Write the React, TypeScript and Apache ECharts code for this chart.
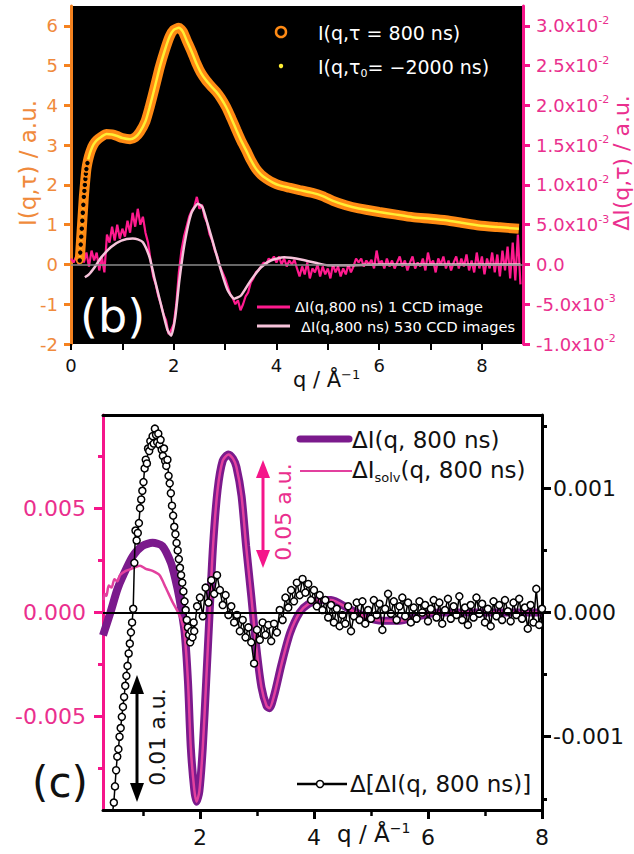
import React, { useEffect, useRef } from "react";
import * as echarts from "echarts";

const FONT = "DejaVu Sans";
const ORANGE_AX = "#f5821f";
const ORANGE_TXT = "#f08a3c";
const ORANGE_LINE = "#ff8a14";
const YELLOW = "#ffee33";
const PINK_AX = "#f5168a";
const PINK_TXT = "#ea2f8e";
const PINK_LINE = "#ff1a8e";
const LIGHT_PINK = "#f6c3da";
const PURPLE = "#7b1a8c";
const SOLV_PINK = "#e2409e";

// ---------- Panel (b) ----------
// I(q, tau = 800 ns), left axis (a.u.)
const qI = [0.17, 0.18, 0.19, 0.2, 0.21, 0.22, 0.23, 0.24, 0.25, 0.26, 0.27, 0.28, 0.29, 0.3, 0.32, 0.35, 0.39, 0.44, 0.5, 0.6, 0.69, 0.8, 0.9, 1.0, 1.15, 1.25, 1.34, 1.45, 1.53, 1.63, 1.73, 1.83, 1.92, 2.0, 2.1, 2.18, 2.25, 2.35, 2.44, 2.53, 2.63, 2.73, 2.83, 2.92, 3.02, 3.12, 3.22, 3.31, 3.41, 3.5, 3.6, 3.7, 3.8, 3.93, 4.06, 4.25, 4.45, 4.7, 4.9, 5.1, 5.35, 5.6, 6.0, 6.3, 6.65, 7.0, 7.3, 7.6, 7.94, 8.3, 8.72];
const I800 = [0.1, 0.3, 0.5, 0.7, 0.9, 1.1, 1.3, 1.5, 1.7, 1.85, 2.0, 2.15, 2.28, 2.4, 2.55, 2.72, 2.88, 3.02, 3.12, 3.22, 3.28, 3.27, 3.23, 3.18, 3.15, 3.2, 3.33, 3.6, 3.95, 4.45, 4.97, 5.4, 5.73, 5.9, 5.95, 5.85, 5.64, 5.35, 5.06, 4.82, 4.63, 4.48, 4.34, 4.18, 3.96, 3.68, 3.38, 3.12, 2.87, 2.63, 2.41, 2.26, 2.16, 2.06, 1.99, 1.93, 1.87, 1.8, 1.72, 1.6, 1.49, 1.41, 1.32, 1.26, 1.19, 1.15, 1.11, 1.05, 0.98, 0.94, 0.9];
// I(q, tau0 = -2000 ns): indistinguishable from I800 at this scale
const Itau0 = [0.1, 0.3, 0.5, 0.7, 0.9, 1.1, 1.3, 1.5, 1.7, 1.85, 2.0, 2.15, 2.28, 2.4, 2.55, 2.72, 2.88, 3.02, 3.12, 3.22, 3.28, 3.27, 3.23, 3.18, 3.15, 3.2, 3.33, 3.6, 3.95, 4.45, 4.97, 5.4, 5.73, 5.9, 5.95, 5.85, 5.64, 5.35, 5.06, 4.82, 4.63, 4.48, 4.34, 4.18, 3.96, 3.68, 3.38, 3.12, 2.87, 2.63, 2.41, 2.26, 2.16, 2.06, 1.99, 1.93, 1.87, 1.8, 1.72, 1.6, 1.49, 1.41, 1.32, 1.26, 1.19, 1.15, 1.11, 1.05, 0.98, 0.94, 0.9];

// ΔI(q,800 ns), 1 CCD image, sampled every 0.05 from q = 0, in units of 1e-3 (right axis)
const CCD1_Q0 = 0;
const CCD1_DQ = 0.05;
const dI1ccd = [
  0.75, 0.25, 1.0, 0.0, 1.25, 0.25, 1.5, -0.25, 1.75, 0.5, 1.5, -0.75, 1.0, -1.0, 3.75, 2.75, 4.75, 3.0, 5.0, 3.25,
  4.5, 3.5, 5.5, 4.0, 6.5, 4.75, 7.0, 5.0, 6.0, 4.0, 2.75, 0.5, -1.5, -2.5, -4.0, -5.0, -6.25, -7.0, -8.75, -8.25,
  -7.5, -5.0, -1.0, 1.75, 3.5, 4.75, 6.0, 6.75, 7.25, 8.5, 7.0, 7.5, 6.0, 5.25, 3.75, 3.0, 1.75, 1.0, -0.25, -1.0,
  -1.75, -2.75, -3.75, -4.25, -5.0, -4.5, -5.75, -5.0, -4.0, -3.5, -2.25, -1.75, -1.0, -0.75, -0.25, 0.25, 0.0, 0.75, 0.5, 1.0,
  0.25, 1.0, 0.0, 0.75, -0.25, 0.5, 0.0, 0.6, -0.5, -1.5, -0.25, -1.25, 0.25, -1.75, -0.5, -1.0, 0.0, -1.5, -0.25, -1.25,
  -0.5, -1.75, 0.0, -1.0, -0.25, -1.5, -0.5, -1.25, 0.0, -1.0, -0.25, 0.75, 0.25, 0.75, -0.25, 0.5, 0.0, 0.6, -0.5, 1.75,
  0.0, 0.5, -0.5, 0.75, -0.25, 0.5, -0.5, 0.25, 1.0, -0.25, 0.5, -0.75, 0.25, 1.0, -0.5, 0.25, -0.25, 0.75, -0.75, 1.5,
  0.0, 0.5, -1.0, 0.75, 0.0, 1.0, -0.5, 0.5, -0.75, 0.25, 1.0, -0.5, 0.75, -0.25, 1.25, -0.75, 0.5, -1.0, 1.5, -0.5,
  1.0, -1.25, 0.75, -0.5, 1.5, -1.0, 1.25, -1.5, 1.75, -0.75, 2.25, -1.75, 2.75, -2.0, 3.75, -2.5,
];

// ΔI(q,800 ns), 530 CCD images, units of 1e-3 (right axis)
const q530 = [0.27, 0.35, 0.46, 0.59, 0.78, 0.98, 1.2, 1.3, 1.4, 1.53, 1.62, 1.75, 1.88, 1.95, 2.03, 2.11, 2.21, 2.34, 2.47, 2.56, 2.66, 2.79, 2.92, 3.05, 3.18, 3.31, 3.5, 3.7, 3.89, 4.15, 4.5, 4.8, 5.0, 5.5, 6.0, 7.0, 8.0, 8.75];
const dI530 = [-1.6, -1.25, -0.35, 0.9, 2.2, 3.0, 3.25, 3.15, 2.8, 0.9, -1.6, -5.0, -8.3, -8.95, -6.65, -2.0, 2.6, 6.4, 7.65, 7.2, 5.1, 2.2, -0.75, -3.25, -4.3, -3.9, -2.0, -0.35, 0.5, 0.9, 0.6, 0.15, -0.1, -0.1, 0.0, 0.0, 0.0, 0.0];

// ---------- Panel (c) ----------
const qDI = [0.3, 0.43, 0.55, 0.64, 0.82, 0.99, 1.17, 1.34, 1.49, 1.57, 1.64, 1.73, 1.79, 1.84, 1.9, 1.94, 1.99, 2.05, 2.11, 2.17, 2.23, 2.31, 2.4, 2.5, 2.58, 2.64, 2.73, 2.81, 2.9, 2.99, 3.08, 3.17, 3.22, 3.31, 3.43, 3.58, 3.75, 3.9, 4.1, 4.3, 4.6, 4.9, 5.2, 5.5, 5.8, 6.2, 7.0, 8.0];
const DI800 = [-0.0011, 0.0, 0.0011, 0.0017, 0.0027, 0.0032, 0.00335, 0.0032, 0.0024, 0.0016, 0.0007, -0.0009, -0.0033, -0.0065, -0.0085, -0.0091, -0.0086, -0.0065, -0.0033, 0.0, 0.0032, 0.0059, 0.0073, 0.0076, 0.0074, 0.007, 0.0056, 0.0032, 0.0008, -0.0017, -0.0036, -0.0045, -0.0046, -0.0039, -0.0025, -0.001, 0.0, 0.0004, 0.0006, 0.0006, 0.0002, -0.0002, -0.0004, -0.0004, -0.0002, 0.0, 0.0, 0.0];

const qSolv = [0.31, 0.33, 0.36, 0.4, 0.45, 0.5, 0.55, 0.6, 0.7, 0.8, 0.88, 0.95, 1.05, 1.17, 1.29, 1.4, 1.52, 1.6, 1.68, 1.73, 1.79, 1.84, 1.9, 1.94, 1.99, 2.05, 2.11, 2.17, 2.23, 2.31, 2.4, 2.5, 2.58, 2.64, 2.73, 2.81, 2.9, 2.99, 3.08, 3.17, 3.22, 3.31, 3.43, 3.58, 3.75, 3.9, 4.1, 4.3, 4.6, 4.9, 5.2, 5.5, 5.8, 6.2, 7.0, 8.0];
const DIsolv = [0.0006, 0.0009, 0.0008, 0.0013, 0.0012, 0.0016, 0.0015, 0.0018, 0.002, 0.0021, 0.0022, 0.00225, 0.0021, 0.002, 0.0018, 0.0012, 0.0005, 0.0001, -0.0004, -0.001, -0.0033, -0.0065, -0.0085, -0.0091, -0.0086, -0.0065, -0.0033, 0.0, 0.0032, 0.0059, 0.0073, 0.0076, 0.0074, 0.007, 0.0056, 0.0032, 0.0008, -0.0017, -0.0036, -0.0045, -0.0046, -0.0039, -0.0025, -0.001, 0.0, 0.0004, 0.0006, 0.0006, 0.0002, -0.0002, -0.0004, -0.0004, -0.0002, 0.0, 0.0, 0.0];

// Δ[ΔI(q,800 ns)], right axis, units of 1e-4
const DD_A_Q0 = 0.47;
const DD_A_DQ = 0.02;
const ddA = [
  -16.0, -15.3, -14.0, -12.7, -11.6, -11.0, -10.0, -9.3, -8.4, -7.6, -6.8, -5.9, -5.1, -4.3, -3.3, -2.5, -1.6, -0.8, 0.3,
  4.0, 6.6, 5.8, 6.4, 7.2, 8.4, 9.1, 9.8, 10.5, 11.6, 12.3, 12.0, 13.2, 13.0, 13.8, 13.4, 14.2, 13.6, 14.8, 14.3, 13.7,
  14.4, 13.5, 13.9, 13.1, 12.6, 13.2, 12.2, 11.8, 12.3, 11.0, 10.4, 9.6, 8.6, 7.8, 6.9, 6.3, 5.6, 5.0, 4.3, 3.6,
  3.0, 2.4, 1.7, 0.9, 0.2, -0.6, -1.2, -1.8, -2.4, -1.5, -2.0, -0.8,
];
const DD_B_Q0 = 1.9;
const DD_B_DQ = 0.05;
const ddB = [
  -1.5, 0.5, 1.2, -0.3, 2.0, 0.8, 2.6, 1.5, 3.0, 1.8, 0.6, 1.4, -0.2, 0.5, -0.8, -0.2, -1.5, -0.6, -2.0, -1.2, -2.4, -4.1,
  -1.4, -2.2, -0.8, -1.8, -1.0, -2.3, -0.9, -1.6, 0.2, -0.6, 1.2, 0.4, 1.8, 0.9, 2.4, 1.4, 2.7, 1.6, 2.3, 1.0,
  1.8, 0.5, 1.4, 0.2, 1.0, -0.4, 0.6, -0.8, 0.3, -1.1, -0.2, -0.9, 0.5, -1.5, -0.3, 0.8, -0.6, 0.9, -0.9, 0.2,
  -0.5, 1.0, -0.2, 0.7, -1.4, 0.3, 1.5, -0.1, 0.9, -0.6, 0.5, 1.2, -0.3, 0.8, -0.8, 0.4, -0.5, 0.9, 0.0, 0.6,
  -0.7, 0.3, 1.0, -0.4, 0.8, -0.9, 0.2, 1.1, -0.5, 0.5, -0.2, 1.3, -0.6, 0.4, -1.0, 0.6, -0.4, 1.2, -0.1, 0.7,
  -0.8, 0.3, -1.1, 0.9, -0.3, 0.6, -0.6, 1.0, 0.1, -0.7, 0.8, -0.2, 1.1, -0.5, 0.4, -1.3, 0.6, -0.8, 1.9, -1.0,
  0.3,
];

// ---------- Ticks ----------
const bXTicks = [0, 1, 2, 3, 4, 5, 6, 7, 8];
const bXLabels = [0, 2, 4, 6, 8];
const bLeftTicks = [-2, -1, 0, 1, 2, 3, 4, 5, 6];
const bRightTicks = [-0.01, -0.005, 0, 0.005, 0.01, 0.015, 0.02, 0.025, 0.03];
const cXMajor = [2, 4, 6, 8];
const cXMinor = [1, 3, 5, 7];
const cLeftMajor = [-0.005, 0, 0.005];
const cLeftMinor = [-0.0075, -0.0025, 0.0025, 0.0075];
const cRightMajor = [-0.001, 0, 0.001];
const cRightMinor = [-0.0015, -0.0005, 0.0005, 0.0015];

const pairs = (qs: number[], vs: number[], scale = 1) => qs.map((q, i) => [q, vs[i] * scale]);
const stepped = (q0: number, dq: number, vs: number[], scale = 1) =>
  vs.map((v, i) => [Math.round((q0 + i * dq) * 1000) / 1000, v * scale]);

function sciLabel(v: number) {
  if (Math.abs(v) < 1e-12) return "{m|0.0}";
  const e = Math.floor(Math.log10(Math.abs(v)) + 1e-9);
  const m = Math.round((v / Math.pow(10, e)) * 10) / 10;
  return `{m|${m.toFixed(1)}x10}{s|${e}}`;
}

function buildOption(): any {
  const txt = (x: number, y: number, text: string, size: number, fill: string, extra: any = {}) => ({
    type: "text",
    x,
    y,
    silent: true,
    ...extra,
    style: { text, fill, fontSize: size, fontFamily: FONT, align: "left", verticalAlign: "middle", ...(extra.style || {}) },
  });
  const rot = (x: number, y: number, text: string, size: number, fill: string) => ({
    type: "text",
    x,
    y,
    rotation: Math.PI / 2,
    silent: true,
    style: { text, fill, fontSize: size, fontFamily: FONT, align: "center", verticalAlign: "middle" },
  });

  const orangeData = pairs(qI, I800).map((p) => (p[0] <= 0.32 ? p : { value: p, symbol: "none" }));
  const ddData = [...stepped(DD_A_Q0, DD_A_DQ, ddA, 1e-4), ...stepped(DD_B_Q0, DD_B_DQ, ddB, 1e-4)];

  return {
    animation: false,
    backgroundColor: "#fff",
    grid: [
      { left: 71, top: 6, width: 452, height: 338, show: true, backgroundColor: "#000", borderWidth: 0 },
      { left: 103, top: 415, width: 439, height: 395, show: false },
    ],
    xAxis: [
      {
        type: "value", gridIndex: 0, position: "bottom", min: 0, max: 8.8,
        axisLine: { show: false, onZero: false },
        axisTick: { show: true, customValues: bXTicks, length: 6, lineStyle: { color: "#000", width: 2 } },
        axisLabel: { customValues: bXLabels, margin: 12, color: "#111", fontSize: 18, fontFamily: FONT },
        splitLine: { show: false },
      },
      {
        type: "value", gridIndex: 1, position: "bottom", min: 0.3, max: 8,
        axisLine: { show: true, onZero: false, lineStyle: { color: "#000", width: 3 } },
        axisTick: { show: true, customValues: cXMajor, length: 9, lineStyle: { color: "#000", width: 3 } },
        axisLabel: { customValues: cXMajor, margin: 16, color: "#111", fontSize: 22, fontFamily: FONT },
        splitLine: { show: false },
      },
      {
        type: "value", gridIndex: 1, position: "bottom", min: 0.3, max: 8,
        axisLine: { show: false, onZero: false },
        axisTick: { show: true, customValues: cXMinor, length: 6, lineStyle: { color: "#000", width: 2.5 } },
        axisLabel: { show: false },
        splitLine: { show: false },
      },
      {
        type: "value", gridIndex: 1, position: "top", min: 0.3, max: 8,
        axisLine: { show: true, onZero: false, lineStyle: { color: "#000", width: 3 } },
        axisTick: { show: false },
        axisLabel: { show: false },
        splitLine: { show: false },
      },
    ],
    yAxis: [
      {
        type: "value", gridIndex: 0, position: "left", min: -2, max: 6.5,
        axisLine: { show: true, onZero: false, lineStyle: { color: ORANGE_AX, width: 3 } },
        axisTick: { show: true, customValues: bLeftTicks, length: 7, lineStyle: { color: ORANGE_AX, width: 3 } },
        axisLabel: { customValues: bLeftTicks, margin: 13, color: ORANGE_TXT, fontSize: 18, fontFamily: FONT },
        splitLine: { show: false },
      },
      {
        type: "value", gridIndex: 0, position: "right", min: -0.01, max: 0.0325,
        axisLine: { show: true, onZero: false, lineStyle: { color: PINK_AX, width: 3 } },
        axisTick: { show: true, customValues: bRightTicks, length: 7, lineStyle: { color: PINK_AX, width: 3 } },
        axisLabel: {
          customValues: bRightTicks, margin: 13, formatter: sciLabel,
          rich: {
            m: { fontSize: 18, color: PINK_TXT, fontFamily: FONT, lineHeight: 22 },
            s: { fontSize: 11, color: PINK_TXT, fontFamily: FONT, lineHeight: 8, verticalAlign: "top" },
          },
        },
        splitLine: { show: false },
      },
      {
        type: "value", gridIndex: 1, position: "left", min: -0.0095, max: 0.0095,
        axisLine: { show: true, onZero: false, lineStyle: { color: PINK_AX, width: 3 } },
        axisTick: { show: true, customValues: cLeftMajor, length: 9, lineStyle: { color: PINK_AX, width: 3 } },
        axisLabel: { customValues: cLeftMajor, margin: 17, color: PINK_TXT, fontSize: 22, fontFamily: FONT, formatter: (v: number) => v.toFixed(3) },
        splitLine: { show: false },
      },
      {
        type: "value", gridIndex: 1, position: "left", min: -0.0095, max: 0.0095,
        axisLine: { show: false, onZero: false },
        axisTick: { show: true, customValues: cLeftMinor, length: 5, lineStyle: { color: PINK_AX, width: 3 } },
        axisLabel: { show: false },
        splitLine: { show: false },
      },
      {
        type: "value", gridIndex: 1, position: "right", min: -0.00159, max: 0.00159,
        axisLine: { show: true, onZero: false, lineStyle: { color: "#000", width: 3 } },
        axisTick: { show: true, customValues: cRightMajor, length: 9, lineStyle: { color: "#000", width: 3 } },
        axisLabel: { customValues: cRightMajor, margin: 11, color: "#111", fontSize: 22, fontFamily: FONT, formatter: (v: number) => v.toFixed(3) },
        splitLine: { show: false },
      },
      {
        type: "value", gridIndex: 1, position: "right", min: -0.00159, max: 0.00159,
        axisLine: { show: false, onZero: false },
        axisTick: { show: true, customValues: cRightMinor, length: 5, lineStyle: { color: "#000", width: 3 } },
        axisLabel: { show: false },
        splitLine: { show: false },
      },
    ],
    series: [
      {
        name: "ΔI(q,800 ns) 1 CCD image", type: "line", xAxisIndex: 0, yAxisIndex: 1,
        data: stepped(CCD1_Q0, CCD1_DQ, dI1ccd, 1e-3), showSymbol: false, silent: true,
        lineStyle: { color: PINK_LINE, width: 2.2 },
      },
      {
        name: "ΔI(q,800 ns) 530 CCD images", type: "line", xAxisIndex: 0, yAxisIndex: 1,
        data: pairs(q530, dI530, 1e-3), showSymbol: false, smooth: 0.2, silent: true,
        lineStyle: { color: LIGHT_PINK, width: 2.5 },
        markLine: {
          silent: true, symbol: "none", label: { show: false },
          lineStyle: { color: "#8a8a8a", width: 1.5, type: "solid" },
          data: [{ yAxis: 0 }],
        },
      },
      {
        name: "I(q,τ = 800 ns)", type: "line", xAxisIndex: 0, yAxisIndex: 0,
        data: orangeData, smooth: 0.2, symbol: "circle", symbolSize: 6, showSymbol: true, showAllSymbol: true, silent: true,
        itemStyle: { color: "#000", borderColor: ORANGE_LINE, borderWidth: 1.6 },
        lineStyle: { color: ORANGE_LINE, width: 10 },
      },
      {
        name: "I(q,τ0 = -2000 ns)", type: "line", xAxisIndex: 0, yAxisIndex: 0,
        data: pairs(qI, Itau0), smooth: 0.2, showSymbol: false, silent: true,
        lineStyle: { color: YELLOW, width: 2.5 },
      },
      {
        name: "ΔI(q, 800 ns)", type: "line", xAxisIndex: 1, yAxisIndex: 2,
        data: pairs(qDI, DI800), smooth: 0.25, showSymbol: false, silent: true,
        lineStyle: { color: PURPLE, width: 8 },
        markLine: {
          silent: true, symbol: "none", label: { show: false },
          lineStyle: { color: "#000", width: 2, type: "solid" },
          data: [{ yAxis: 0 }],
        },
      },
      {
        name: "ΔIsolv(q, 800 ns)", type: "line", xAxisIndex: 1, yAxisIndex: 2,
        data: pairs(qSolv, DIsolv), smooth: 0.25, showSymbol: false, silent: true,
        lineStyle: { color: SOLV_PINK, width: 2.5 },
      },
      {
        name: "Δ[ΔI(q, 800 ns)]", type: "line", xAxisIndex: 1, yAxisIndex: 4,
        data: ddData, symbol: "circle", symbolSize: 7, showSymbol: true, showAllSymbol: true, silent: true,
        itemStyle: { color: "#fff", borderColor: "#000", borderWidth: 1.5 },
        lineStyle: { color: "#000", width: 1.5 },
      },
    ],
    graphic: [
      // panel (b) axis titles
      rot(28, 163, "I(q,τ) / a.u.", 23, ORANGE_TXT),
      rot(621, 163, "ΔI(q,τ) / a.u.", 22, PINK_TXT),
      {
        type: "text", x: 293, y: 380, silent: true,
        style: {
          text: "{a|q / Å}{s|−1}", verticalAlign: "middle", align: "left",
          rich: {
            a: { fontSize: 21, fontFamily: FONT, fill: "#111", color: "#111", lineHeight: 24 },
            s: { fontSize: 13, fontFamily: FONT, fill: "#111", color: "#111", lineHeight: 10, verticalAlign: "top" },
          },
        },
      },
      // panel (b) legend top
      { type: "circle", silent: true, shape: { cx: 281, cy: 32, r: 5 }, style: { fill: "#000", stroke: ORANGE_LINE, lineWidth: 2.5 } },
      txt(318, 33, "I(q,τ = 800 ns)", 19, "#fff"),
      { type: "circle", silent: true, shape: { cx: 281, cy: 66, r: 2.2 }, style: { fill: YELLOW } },
      {
        type: "text", x: 318, y: 67, silent: true,
        style: {
          text: "{a|I(q,τ}{b|0}{a|= −2000 ns)}", verticalAlign: "middle", align: "left",
          rich: {
            a: { fontSize: 19, fontFamily: FONT, fill: "#fff", color: "#fff", lineHeight: 24 },
            b: { fontSize: 11, fontFamily: FONT, fill: "#fff", color: "#fff", lineHeight: 10, verticalAlign: "bottom" },
          },
        },
      },
      // panel (b) legend bottom
      { type: "line", silent: true, shape: { x1: 257, y1: 307, x2: 290, y2: 307 }, style: { stroke: PINK_LINE, lineWidth: 3 } },
      txt(295, 307, "ΔI(q,800 ns) 1 CCD image", 14.5, "#fff"),
      { type: "line", silent: true, shape: { x1: 257, y1: 326, x2: 290, y2: 326 }, style: { stroke: LIGHT_PINK, lineWidth: 3 } },
      txt(301, 327, "ΔI(q,800 ns) 530 CCD images", 14.5, "#fff"),
      txt(80, 316, "(b)", 46, "#fff"),

      // panel (c) legend
      { type: "line", silent: true, shape: { x1: 300, y1: 439, x2: 349, y2: 439 }, style: { stroke: PURPLE, lineWidth: 7, lineCap: "round" } },
      txt(352, 440, "ΔI(q, 800 ns)", 23, "#111"),
      { type: "line", silent: true, shape: { x1: 300, y1: 471, x2: 352, y2: 471 }, style: { stroke: SOLV_PINK, lineWidth: 2 } },
      {
        type: "text", x: 352, y: 470, silent: true,
        style: {
          text: "{a|ΔI}{b|solv}{a|(q, 800 ns)}", verticalAlign: "middle", align: "left",
          rich: {
            a: { fontSize: 23, fontFamily: FONT, fill: "#111", color: "#111", lineHeight: 28 },
            b: { fontSize: 13, fontFamily: FONT, fill: "#111", color: "#111", lineHeight: 12, verticalAlign: "bottom" },
          },
        },
      },
      { type: "line", silent: true, shape: { x1: 297, y1: 784, x2: 347, y2: 784 }, style: { stroke: "#000", lineWidth: 2.5 } },
      { type: "circle", silent: true, shape: { cx: 320, cy: 784, r: 3.5 }, style: { fill: "#fff", stroke: "#000", lineWidth: 1.5 } },
      txt(350, 784, "Δ[ΔI(q, 800 ns)]", 23, "#111"),

      // panel (c) scale arrows
      { type: "line", silent: true, shape: { x1: 263, y1: 474, x2: 263, y2: 554 }, style: { stroke: PINK_AX, lineWidth: 3 } },
      { type: "polygon", silent: true, shape: { points: [[263, 460], [256, 478], [270, 478]] }, style: { fill: PINK_AX } },
      { type: "polygon", silent: true, shape: { points: [[263, 568], [256, 550], [270, 550]] }, style: { fill: PINK_AX } },
      rot(283, 512, "0.05 a.u.", 22, PINK_TXT),
      { type: "line", silent: true, shape: { x1: 137, y1: 690, x2: 137, y2: 787 }, style: { stroke: "#000", lineWidth: 3 } },
      { type: "polygon", silent: true, shape: { points: [[137, 675], [130, 694], [144, 694]] }, style: { fill: "#000" } },
      { type: "polygon", silent: true, shape: { points: [[137, 802], [130, 783], [144, 783]] }, style: { fill: "#000" } },
      rot(157, 737, "0.01 a.u.", 22, "#111"),
      txt(32, 782, "(c)", 42, "#111"),
      {
        type: "text", x: 337, y: 834, silent: true,
        style: {
          text: "{a|q / Å}{s|−1}", verticalAlign: "middle", align: "left",
          rich: {
            a: { fontSize: 23, fontFamily: FONT, fill: "#111", color: "#111", lineHeight: 26 },
            s: { fontSize: 14, fontFamily: FONT, fill: "#111", color: "#111", lineHeight: 10, verticalAlign: "top" },
          },
        },
      },
    ],
  };
}

export default function App() {
  const ref = useRef<HTMLDivElement>(null);
  useEffect(() => {
    if (!ref.current) return;
    const chart = echarts.init(ref.current, null, { renderer: "svg" });
    chart.setOption(buildOption());
    return () => chart.dispose();
  }, []);
  return (
    <div
      ref={ref}
      style={{ position: "absolute", left: 0, top: 0, width: 634, height: 854, background: "#fff" }}
    />
  );
}
